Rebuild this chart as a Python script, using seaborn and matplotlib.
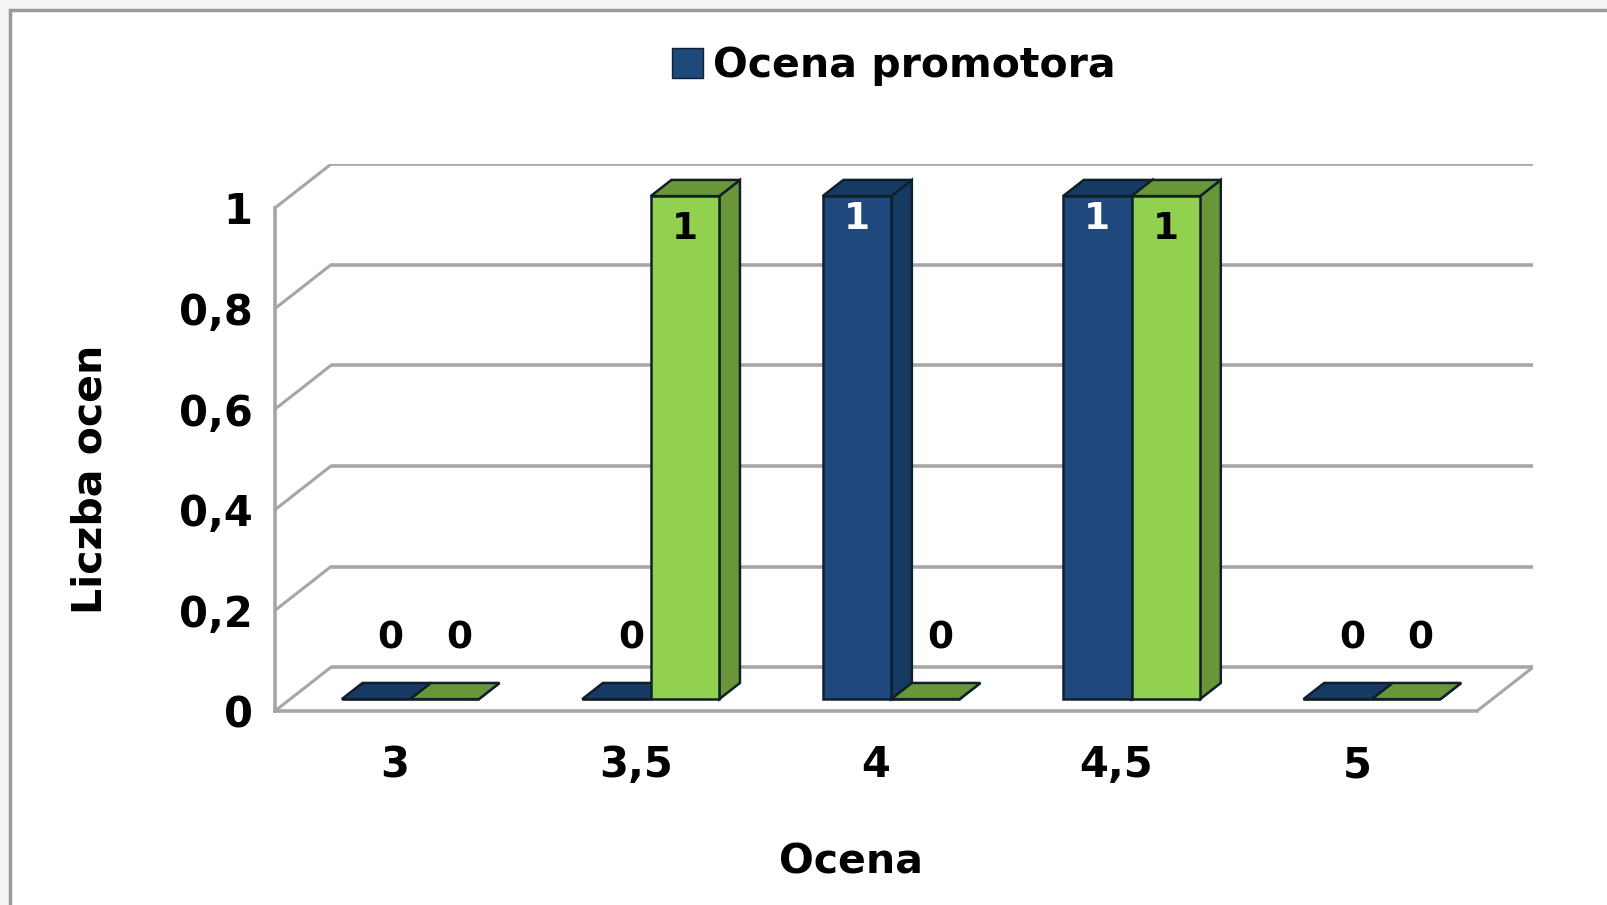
import matplotlib
matplotlib.use("Agg")
import matplotlib.pyplot as plt
from matplotlib.patches import Polygon, Rectangle, Patch
import seaborn as sns
import pandas as pd

# ---- data ----
categories = ["3", "3,5", "4", "4,5", "5"]
series_names = ["Ocena promotora", "Seria 2"]
promotor_values = [0, 0, 1, 1, 0]
series2_values = [0, 1, 0, 1, 0]
ytick_values = [0, 0.2, 0.4, 0.6, 0.8, 1]
ytick_labels = ["0", "0,2", "0,4", "0,6", "0,8", "1"]
x_label = "Ocena"
y_label = "Liczba ocen"

df = pd.DataFrame({
    "cat": categories * 2,
    "val": promotor_values + series2_values,
    "series": [series_names[0]] * 5 + [series_names[1]] * 5,
})

front_cols = ["#1F497D", "#92D050"]
dark_cols = ["#173A64", "#6A963A"]
edge = "#10202a"

sns.set_theme(style="white")
plt.rcParams["font.family"] = ["DejaVu Sans"]
plt.rcParams["font.weight"] = "bold"
plt.rcParams["text.color"] = "black"
plt.rcParams["axes.labelcolor"] = "black"

fig = plt.figure(figsize=(16.08, 9.05), dpi=100)
fig.patch.set_facecolor("#f4f4f4")
# white chart area with border
fig.add_artist(Rectangle((10 / 1608, -0.05), 1.1, 1 - 10 / 905 + 0.05,
                         transform=fig.transFigure, facecolor="white",
                         edgecolor="#9a9a9a", lw=2.5, zorder=-10))

ax = fig.add_axes([0.171, 0.2144, 0.7824, 0.6042])
DX, DY = 0.233, 0.087       # depth offset in data units
F, B = 0.27, 0.37           # bar depth start and bar thickness (fraction)
ax.patch.set_alpha(0)

grid_c = "#a6a6a6"
# back wall gridlines and side wall diagonals
for v in ytick_values:
    ax.plot([-0.5 + DX, 4.5 + DX], [v + DY, v + DY], color=grid_c, lw=2.6, zorder=0,
            solid_capstyle="butt")
    ax.plot([-0.5, -0.5 + DX], [v, v + DY], color=grid_c, lw=2.2, zorder=0)
# floor right edge
ax.plot([4.5, 4.5 + DX], [0, DY], color=grid_c, lw=2.2, zorder=0)

sns.barplot(data=df, x="cat", y="val", hue="series", palette=front_cols,
            width=0.57, ax=ax, legend=False, saturation=1, zorder=3)

ax.set_xlim(-0.5, 4.5 + DX)
ax.set_ylim(0, 1 + DY)

bars = [p for p in ax.patches if isinstance(p, Rectangle)]
n = len(categories)
base = F * DY
bdx, bdy = B * DX, B * DY
for p in bars:
    p.set_x(p.get_x() + F * DX)
    p.set_y(base)
    p.set_edgecolor(edge)
    p.set_linewidth(1.8)

order = sorted(range(len(bars)), key=lambda i: bars[i].get_x())
z = 3
for i in order:
    p = bars[i]
    x0 = p.get_x()
    w = p.get_width()
    h = p.get_height()
    x1 = x0 + w
    s = 0 if p.get_facecolor()[1] < 0.5 else 1
    top = Polygon([(x0, base + h), (x1, base + h), (x1 + bdx, base + h + bdy),
                   (x0 + bdx, base + h + bdy)], closed=True,
                  facecolor=dark_cols[s], edgecolor=edge, lw=1.8, zorder=z)
    side = Polygon([(x1, base), (x1 + bdx, base + bdy), (x1 + bdx, base + h + bdy),
                    (x1, base + h)], closed=True,
                   facecolor=dark_cols[s], edgecolor=edge, lw=1.8, zorder=z)
    p.set_zorder(z + 0.5)
    ax.add_patch(side)
    ax.add_patch(top)
    z += 1
    # value label
    if h > 0:
        col = "white" if s == 0 else "black"
        dy = 0.045 if s == 0 else 0.065
        ax.text(x0 + w / 2, base + h - dy, f"{h:g}", ha="center", va="center",
                fontsize=27, fontweight="bold", color=col, zorder=50)
    else:
        ax.text(x0 + w / 2 + bdx * 0.7, base + 0.12, f"{h:g}", ha="center", va="center",
                fontsize=27, fontweight="bold", color="black", zorder=50)

# axes styling
for sp in ["top", "right"]:
    ax.spines[sp].set_visible(False)
ax.spines["left"].set_bounds(0, 1)
ax.spines["bottom"].set_bounds(-0.5, 4.5)
for sp in ["left", "bottom"]:
    ax.spines[sp].set_color(grid_c)
    ax.spines[sp].set_linewidth(2.6)
ax.set_yticks(ytick_values)
ax.set_yticklabels(ytick_labels)
ax.set_xticks(range(n))
ax.set_xticklabels(categories)
ax.set_xticks([i - 0.5 for i in range(n + 1)], minor=True)
ax.tick_params(axis="x", which="major", length=0, pad=24, labelsize=30)
ax.tick_params(axis="x", which="minor", length=16, width=2.2, color=grid_c, direction="out")
ax.tick_params(axis="y", which="major", length=8, width=2.2, color=grid_c,
               pad=8, labelsize=30)
for t in ax.get_xticklabels() + ax.get_yticklabels():
    t.set_fontweight("bold")
    t.set_color("black")
ax.set_xlabel(x_label, fontsize=29.5, fontweight="bold", color="black")
ax.set_ylabel(y_label, fontsize=29.5, fontweight="bold", color="black")
ax.xaxis.set_label_coords((830 * 1.0255 / 1608 - 0.171) / 0.7824, -0.240)
ax.yaxis.set_label_coords(-0.131, 0.424)

# legend (only first series shown)
fig.legend(handles=[Patch(facecolor=front_cols[0], edgecolor="#10202a", lw=1)],
           labels=[series_names[0]], loc="center", bbox_to_anchor=(0.556, 0.927),
           frameon=False, handlelength=0.75, handleheight=0.75,
           handletextpad=0.25, prop={"weight": "bold", "size": 29.5})

fig.savefig("out.png", dpi=100, facecolor=fig.get_facecolor())
